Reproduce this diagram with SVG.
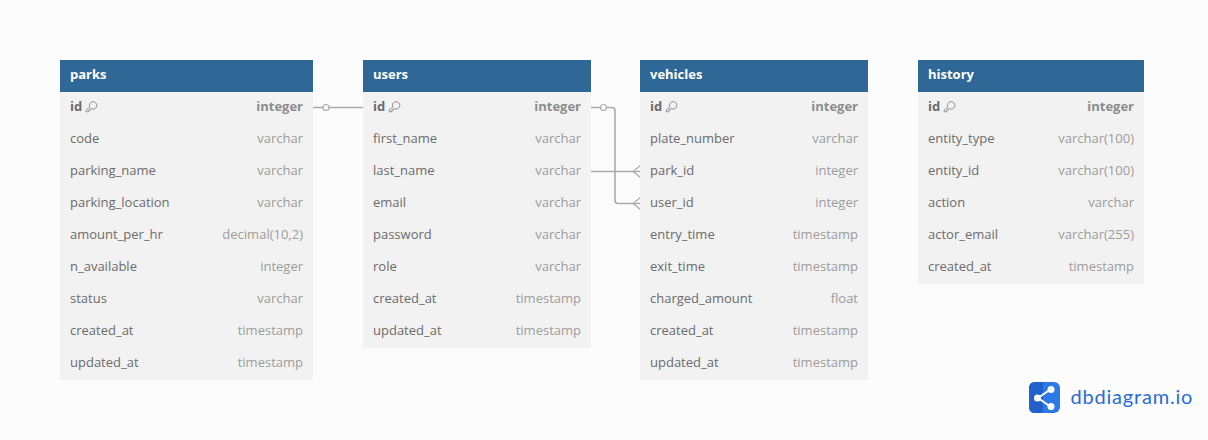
<svg xmlns="http://www.w3.org/2000/svg" width="1208" height="440" viewBox="0 0 1208 440">
<style>
text{font-family:"Open Sans","Noto Sans",sans-serif;font-size:13px;fill:#6b6b6b}
.t{font-weight:700;fill:#fff}
.b{fill:#f2f2f2}
.h{fill:#2f6896}
.ty{fill:#9c9c9c;text-anchor:end}
.pk{font-weight:700}
.pkt{font-weight:700;fill:#8c8c8c;text-anchor:end}
.c{fill:none;stroke:#aaaab0;stroke-width:1.6}
.c2{fill:none;stroke:#aaaab0;stroke-width:1.2}
.ci{fill:#fcfcfc;stroke:#aaaab0;stroke-width:1.2}
.k{fill:none;stroke:#777;stroke-width:.8}
</style>
<defs>
<path id="key" class="k" d="M4.300 5.500A3.700 3.700 0 1 1 6 7.200L4.700 7.300V8.700H3.300V10.300H.7L.7 8.500Z"/>
</defs>
<rect width="1208" height="440" fill="#fcfcfc"/>
<g id="connectors">
<path class="c" d="M313 107.500H477V171.500H640"/>
<path class="c" d="M591 107.500H612Q615 107.500 615 110.500V200.500Q615 203.500 618 203.500H640"/>
<circle class="ci" cx="326" cy="107.500" r="3"/>
<circle class="ci" cx="603.500" cy="107.500" r="3"/>
<path class="c2" d="M640.500 165.500L633 171.500L640.500 177.500M640.500 197.500L633 203.500L640.500 209.500"/>
</g>
<g id="parks">
<rect class="b" x="60" y="60" width="253" height="320"/>
<rect class="h" x="60" y="60" width="253" height="32"/>
<text class="t" x="70" y="79">parks</text>
<text class="pk" x="70" y="111">id</text><use href="#key" x="85.500" y="101.500"/><text class="pkt" x="303" y="111">integer</text>
<text x="70" y="143">code</text><text class="ty" x="303" y="143">varchar</text>
<text x="70" y="175">parking_name</text><text class="ty" x="303" y="175">varchar</text>
<text x="70" y="207">parking_location</text><text class="ty" x="303" y="207">varchar</text>
<text x="70" y="239">amount_per_hr</text><text class="ty" x="303" y="239">decimal(10,2)</text>
<text x="70" y="271">n_available</text><text class="ty" x="303" y="271">integer</text>
<text x="70" y="303">status</text><text class="ty" x="303" y="303">varchar</text>
<text x="70" y="335">created_at</text><text class="ty" x="303" y="335">timestamp</text>
<text x="70" y="367">updated_at</text><text class="ty" x="303" y="367">timestamp</text>
</g>
<g id="users">
<rect class="b" x="363" y="60" width="228" height="288"/>
<rect class="h" x="363" y="60" width="228" height="32"/>
<text class="t" x="373" y="79">users</text>
<text class="pk" x="373" y="111">id</text><use href="#key" x="388.500" y="101.500"/><text class="pkt" x="581" y="111">integer</text>
<text x="373" y="143">first_name</text><text class="ty" x="581" y="143">varchar</text>
<text x="373" y="175">last_name</text><text class="ty" x="581" y="175">varchar</text>
<text x="373" y="207">email</text><text class="ty" x="581" y="207">varchar</text>
<text x="373" y="239">password</text><text class="ty" x="581" y="239">varchar</text>
<text x="373" y="271">role</text><text class="ty" x="581" y="271">varchar</text>
<text x="373" y="303">created_at</text><text class="ty" x="581" y="303">timestamp</text>
<text x="373" y="335">updated_at</text><text class="ty" x="581" y="335">timestamp</text>
</g>
<g id="vehicles">
<rect class="b" x="640" y="60" width="228" height="320"/>
<rect class="h" x="640" y="60" width="228" height="32"/>
<text class="t" x="650" y="79">vehicles</text>
<text class="pk" x="650" y="111">id</text><use href="#key" x="665.500" y="101.500"/><text class="pkt" x="858" y="111">integer</text>
<text x="650" y="143">plate_number</text><text class="ty" x="858" y="143">varchar</text>
<text x="650" y="175">park_id</text><text class="ty" x="858" y="175">integer</text>
<text x="650" y="207">user_id</text><text class="ty" x="858" y="207">integer</text>
<text x="650" y="239">entry_time</text><text class="ty" x="858" y="239">timestamp</text>
<text x="650" y="271">exit_time</text><text class="ty" x="858" y="271">timestamp</text>
<text x="650" y="303">charged_amount</text><text class="ty" x="858" y="303">float</text>
<text x="650" y="335">created_at</text><text class="ty" x="858" y="335">timestamp</text>
<text x="650" y="367">updated_at</text><text class="ty" x="858" y="367">timestamp</text>
</g>
<g id="history">
<rect class="b" x="918" y="60" width="226" height="224"/>
<rect class="h" x="918" y="60" width="226" height="32"/>
<text class="t" x="928" y="79">history</text>
<text class="pk" x="928" y="111">id</text><use href="#key" x="943.500" y="101.500"/><text class="pkt" x="1134" y="111">integer</text>
<text x="928" y="143">entity_type</text><text class="ty" x="1134" y="143">varchar(100)</text>
<text x="928" y="175">entity_id</text><text class="ty" x="1134" y="175">varchar(100)</text>
<text x="928" y="207">action</text><text class="ty" x="1134" y="207">varchar</text>
<text x="928" y="239">actor_email</text><text class="ty" x="1134" y="239">varchar(255)</text>
<text x="928" y="271">created_at</text><text class="ty" x="1134" y="271">timestamp</text>
</g>
<g id="logo">
<rect x="1029" y="382" width="31" height="31" rx="6" fill="#2d79e6"/>
<path d="M1035 382H1043V413H1035Q1029 413 1029 407V388Q1029 382 1035 382Z" fill="#2260cc"/>
<path d="M1038 398L1051 389M1038 398L1051 407" stroke="#fff" stroke-width="2" fill="none"/>
<circle cx="1037.500" cy="398" r="3.500" fill="#fff"/><circle cx="1051" cy="389.500" r="3.500" fill="#fff"/><circle cx="1051" cy="406.500" r="3.500" fill="#fff"/>
<text x="1070.500" y="404" style="font-family:Lato,sans-serif;font-size:20px;letter-spacing:.8px;fill:#2a6bd6">dbdiagram.io</text>
</g>
</svg>
